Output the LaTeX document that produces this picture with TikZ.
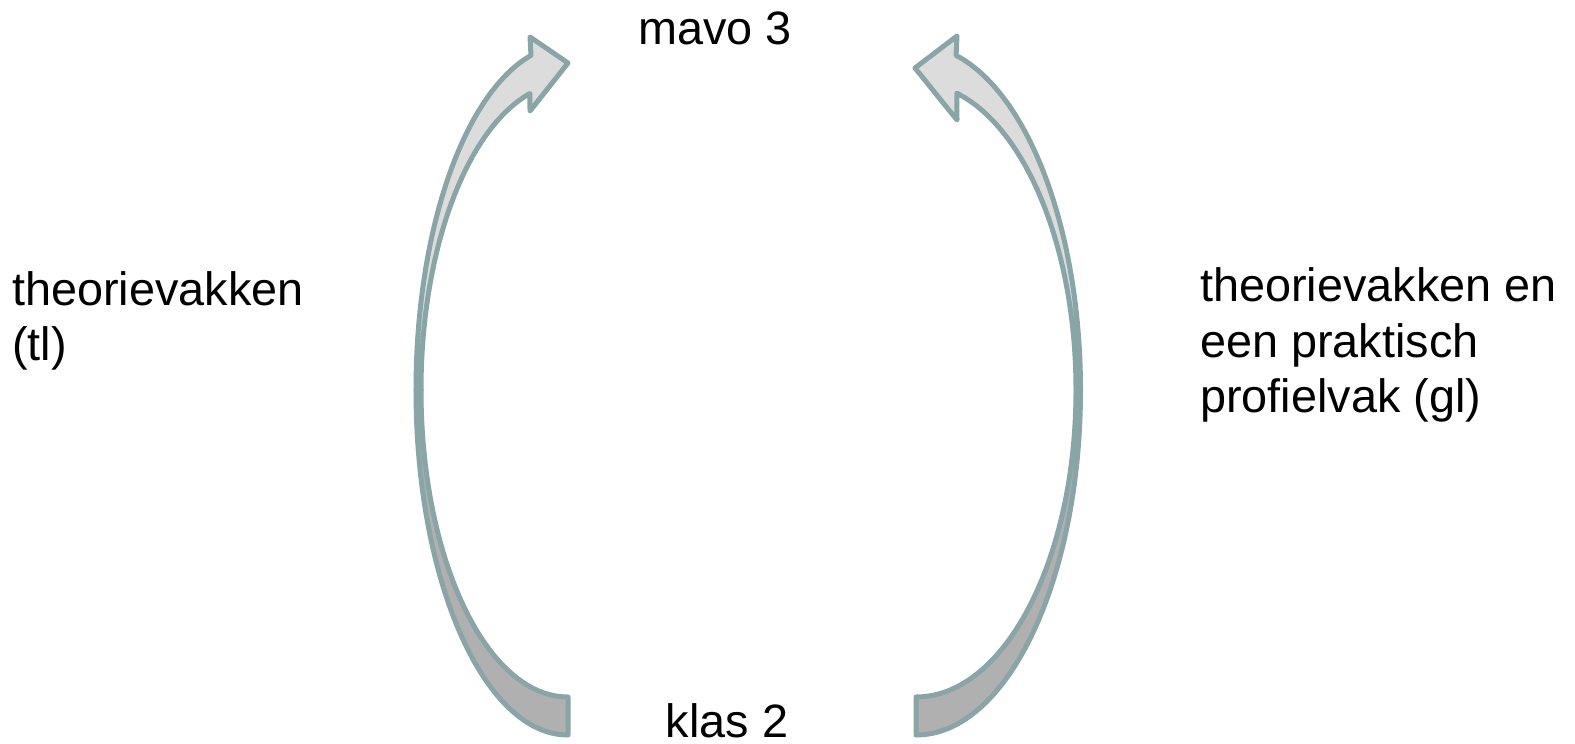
\documentclass[tikz,border=0pt]{standalone}
\usepackage{fontspec}
\setmainfont{Liberation Sans}
\usepackage{xcolor}
\definecolor{rimgrey}{RGB}{137,165,168}
\definecolor{frontgrey}{RGB}{220,220,220}
\definecolor{backgrey}{RGB}{176,176,176}
\usetikzlibrary{positioning}

\begin{document}
\begin{tikzpicture}[x=1pt,y=-1pt,
    rim/.style={draw=rimgrey,line width=5pt,line join=round},
    backface/.style={rim,fill=backgrey},
    frontface/.style={rim,fill=frontgrey},
    lbl/.style={inner sep=0pt,font=\fontsize{46.8}{56}\selectfont}]
  \useasboundingbox (0,0) rectangle (1575,744);
  % left arrow: klas 2 -> mavo 3
  \draw[backface] (568,735) arc[start angle=90,end angle=180,x radius=152,y radius=345]
    -- (421,390) arc[start angle=180,end angle=90,x radius=147,y radius=307] -- cycle;
  \draw[frontface] (416,390) arc[start angle=180,end angle=255.9,x radius=152,y radius=345]
    -- (530,37) -- (568,63) -- (530,111)
    -- ([shift={(568,390)}]255:147 and 307)
    arc[start angle=255,end angle=180,x radius=147,y radius=307] -- cycle;
  % right arrow
  \draw[backface] (916,735) arc[start angle=90,end angle=0,x radius=164.5,y radius=345]
    -- (1076,390) arc[start angle=0,end angle=90,x radius=160,y radius=307] -- cycle;
  \draw[frontface] (1080.5,390) arc[start angle=0,end angle=-75.9,x radius=164.5,y radius=345]
    -- (957,36) -- (915,68) -- (957,120)
    -- ([shift={(916,390)}]-75.2:160 and 307)
    arc[start angle=-75.2,end angle=0,x radius=160,y radius=307] -- cycle;
  % labels
  \node[lbl,anchor=base] (mavo) at (715,44) {mavo 3};
  \node[lbl,anchor=base] (klas) at (727,737) {klas 2};
  \node[lbl,anchor=base west] (tlA) at (12,305) {theorievakken};
  \node[lbl,anchor=base west] (tlB) at (12,360) {(tl)};
  \node[lbl,anchor=base west] (glA) at (1200,301) {theorievakken en};
  \node[lbl,anchor=base west] (glB) at (1200,357) {een praktisch};
  \node[lbl,anchor=base west] (glC) at (1200,412) {profielvak (gl)};
\end{tikzpicture}
\end{document}
